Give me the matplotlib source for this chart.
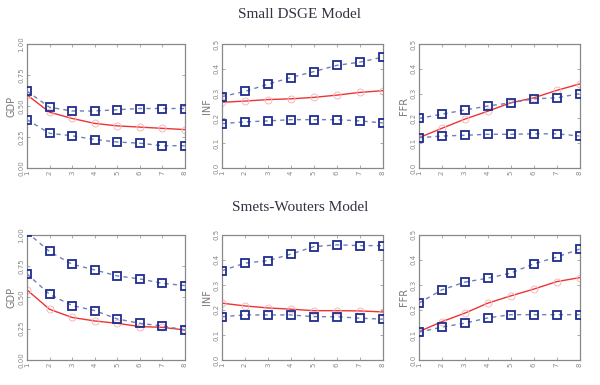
import numpy as np
import matplotlib.pyplot as plt

# --- datos ---
h = [1, 2, 3, 4, 5, 6, 7, 8]

# Small DSGE
dsge_gdp_hi = [0.62, 0.49, 0.46, 0.46, 0.47, 0.48, 0.48, 0.48]
dsge_gdp_lo = [0.39, 0.28, 0.26, 0.23, 0.21, 0.20, 0.18, 0.18]
dsge_gdp_md = [0.59, 0.45, 0.40, 0.36, 0.34, 0.33, 0.32, 0.31]

dsge_inf_hi = [0.288, 0.309, 0.338, 0.365, 0.389, 0.414, 0.427, 0.447]
dsge_inf_lo = [0.179, 0.186, 0.190, 0.195, 0.195, 0.195, 0.190, 0.182]
dsge_inf_md = [0.265, 0.270, 0.276, 0.279, 0.285, 0.294, 0.305, 0.312]

dsge_ffr_hi = [0.200, 0.217, 0.234, 0.250, 0.263, 0.279, 0.283, 0.300]
dsge_ffr_lo = [0.122, 0.129, 0.132, 0.136, 0.136, 0.138, 0.138, 0.129]
dsge_ffr_md = [0.122, 0.160, 0.197, 0.229, 0.263, 0.283, 0.313, 0.339]

# Smets-Wouters
sw_gdp_hi = [1.02, 0.867, 0.765, 0.72, 0.672, 0.648, 0.613, 0.595]
sw_gdp_lo = [0.688, 0.525, 0.435, 0.395, 0.328, 0.293, 0.272, 0.24]
sw_gdp_md = [0.56, 0.405, 0.34, 0.312, 0.293, 0.267, 0.261, 0.24]

sw_inf_hi = [0.357, 0.387, 0.397, 0.423, 0.453, 0.460, 0.457, 0.457]
sw_inf_lo = [0.173, 0.180, 0.180, 0.180, 0.173, 0.173, 0.167, 0.163]
sw_inf_md = [0.227, 0.216, 0.208, 0.203, 0.197, 0.197, 0.196, 0.192]

sw_ffr_hi = [0.227, 0.280, 0.311, 0.327, 0.347, 0.384, 0.411, 0.443]
sw_ffr_lo = [0.111, 0.131, 0.147, 0.168, 0.181, 0.181, 0.181, 0.181]
sw_ffr_md = [0.113, 0.153, 0.187, 0.227, 0.256, 0.283, 0.313, 0.329]

var_names = ['GDP', 'INF', 'FFR']
gdp_ticks = [0.00, 0.25, 0.50, 0.75, 1.00]
gdp_ticklabels = ['0.00', '0.25', '0.50', '0.75', '1.00']
rate_ticks = [0.0, 0.1, 0.2, 0.3, 0.4, 0.5]
rate_ticklabels = ['0.0', '0.1', '0.2', '0.3', '0.4', '0.5']

rows = [
    [(dsge_gdp_hi, dsge_gdp_lo, dsge_gdp_md),
     (dsge_inf_hi, dsge_inf_lo, dsge_inf_md),
     (dsge_ffr_hi, dsge_ffr_lo, dsge_ffr_md)],
    [(sw_gdp_hi, sw_gdp_lo, sw_gdp_md),
     (sw_inf_hi, sw_inf_lo, sw_inf_md),
     (sw_ffr_hi, sw_ffr_lo, sw_ffr_md)],
]

# --- figura ---
fig = plt.figure(figsize=(6.0, 3.85), dpi=100)

col_left = [0.045, 0.370, 0.698]
col_w = [0.263, 0.268, 0.268]
row_bottom = [0.5636, 0.065]
row_h = [0.322, 0.325]

blue_mk = '#1f2d8c'
blue_ln = '#6f7fb8'
red = '#ee3333'

for r in range(2):
    for c in range(3):
        ax = fig.add_axes([col_left[c], row_bottom[r], col_w[c], row_h[r]])
        hi, lo, md = rows[r][c]
        for s in (hi, lo):
            ax.plot(h, s, linestyle=(0, (3, 3)), color=blue_ln, lw=1.0,
                    marker='s', markersize=6, markerfacecolor='none',
                    markeredgecolor=blue_mk, markeredgewidth=1.3,
                    clip_on=True, zorder=3)
        ax.plot(h, md, '-', color=red, lw=1.0, zorder=2,
                marker='o', markersize=5, markerfacecolor='none',
                markeredgecolor='#f6b8b8', markeredgewidth=0.7)

        ax.set_xlim(1, 8)
        ax.set_xticks(h)
        ax.set_xticklabels([str(v) for v in h], rotation=90)
        if c == 0:
            ax.set_ylim(0, 1)
            ax.set_yticks(gdp_ticks)
            ax.set_yticklabels(gdp_ticklabels, rotation=90, va='center')
        else:
            ax.set_ylim(0, 0.5)
            ax.set_yticks(rate_ticks)
            ax.set_yticklabels(rate_ticklabels, rotation=90, va='center')
        ax.set_ylabel(var_names[c], fontsize=7, color='#777777', labelpad=1)
        ax.tick_params(direction='in', length=2, width=0.5, labelsize=5,
                       colors='#888888', pad=2, top=True, right=True)
        for sp in ax.spines.values():
            sp.set_linestyle((0, (1, 1)))
            sp.set_color('#888888')
            sp.set_linewidth(0.9)

fig.text(0.5, 0.962, 'Small DSGE Model', ha='center', va='center',
         fontsize=11, family='Liberation Serif', color='#333344')
fig.text(0.5, 0.462, 'Smets-Wouters Model', ha='center', va='center',
         fontsize=11, family='Liberation Serif', color='#333344')

fig.savefig('out.png', dpi=100)
